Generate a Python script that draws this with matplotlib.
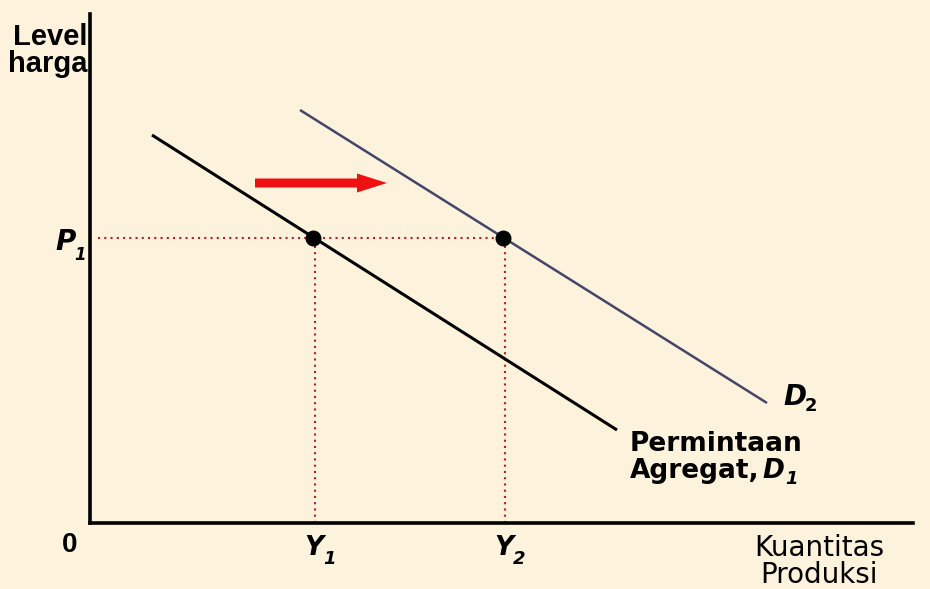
import matplotlib
matplotlib.use("Agg")
import matplotlib.pyplot as plt
from matplotlib.patches import FancyArrow

# ---- data (axis units: x quantity, y price level) ----
d1_x = [62, 527]
d1_y = [388, 93]
d2_x = [210, 677]
d2_y = [413, 120]
eq_x = [223, 413]          # Y1, Y2
eq_y = [285, 285]          # P1
shift_x = [165, 297]
shift_y = 340
x_max, y_max = 823, 509

BG = "#FDF2DC"
W, H = 930, 589
fig = plt.figure(figsize=(W / 100, H / 100), dpi=100, facecolor=BG)
ax = fig.add_axes([90 / W, (H - 523) / H, (x_max) / W, (y_max) / H])
ax.set_facecolor(BG)
ax.set_xlim(0, x_max)
ax.set_ylim(0, y_max)
for s in ["top", "right"]:
    ax.spines[s].set_visible(False)
for s in ["left", "bottom"]:
    ax.spines[s].set_linewidth(2.6)
    ax.spines[s].set_color("black")
ax.set_xticks([])
ax.set_yticks([])

# dotted guide lines
dot_c = "#B82020"
ax.plot([8, eq_x[1] + 2], [eq_y[0], eq_y[1]], color=dot_c, lw=1.5, ls=(0, (1, 2)))
for xv, yv in zip(eq_x, eq_y):
    ax.plot([xv + 2, xv + 2], [0, yv], color=dot_c, lw=1.5, ls=(0, (1, 2)))

# demand curves
ax.plot(d1_x, d1_y, color="black", lw=2.2, solid_capstyle="butt")
ax.plot(d2_x, d2_y, color="#45456A", lw=1.8, solid_capstyle="butt")

# equilibrium points
ax.scatter(eq_x, eq_y, s=110, color="black", zorder=5)

# shift arrow
ax.add_patch(FancyArrow(shift_x[0], shift_y, shift_x[1] - shift_x[0], 0,
                        width=9, head_width=19, head_length=30,
                        length_includes_head=True, color="#EE1111", lw=0))

bold = dict(fontweight="bold", color="black", clip_on=False)
# axis labels
ax.text(-3, y_max - 9, "Level\nharga", ha="right", va="top", fontsize=21,
        family="Liberation Sans", linespacing=0.95, **bold)
ax.text(729, -11, "Kuantitas\nProduksi", ha="center", va="top", fontsize=20,
        family="DejaVu Sans", linespacing=0.95, color="black", clip_on=False)
ax.text(-20, -22, "0", ha="center", va="center", fontsize=20,
        family="Liberation Sans", **bold)

# P1
ax.text(-35, 281, "P", ha="left", va="center", fontsize=20,
        family="DejaVu Sans", fontstyle="italic", **bold)
ax.text(-16, 268, "1", ha="left", va="center", fontsize=12,
        family="DejaVu Sans", fontstyle="italic", **bold)
# Y1, Y2
for xv, sub in zip(eq_x, ["1", "2"]):
    ax.text(xv - 9, -25, "Y", ha="left", va="center", fontsize=19,
            family="DejaVu Sans", fontstyle="italic", **bold)
    ax.text(xv + 10, -36, sub, ha="left", va="center", fontsize=13,
            family="DejaVu Sans", fontstyle="italic", **bold)

# D2
ax.text(d2_x[1] + 16, d2_y[1] + 6, "D", ha="left", va="center", fontsize=20,
        family="DejaVu Sans", fontstyle="italic", **bold)
ax.text(d2_x[1] + 38, d2_y[1] - 3, "2", ha="left", va="center", fontsize=13,
        family="DejaVu Sans", **bold)

# Permintaan Agregat, D1
ax.text(d1_x[1] + 13, d1_y[1] - 1, "Permintaan", ha="left", va="top",
        fontsize=19, family="DejaVu Sans", **bold)
ax.text(d1_x[1] + 13, d1_y[1] - 28, "Agregat,", ha="left", va="top",
        fontsize=19, family="DejaVu Sans", **bold)
ax.text(d1_x[1] + 145, d1_y[1] - 28, "D", ha="left", va="top",
        fontsize=19, family="DejaVu Sans", fontstyle="italic", **bold)
ax.text(d1_x[1] + 168, d1_y[1] - 40, "1", ha="left", va="top",
        fontsize=13, family="DejaVu Sans", fontstyle="italic", **bold)

fig.savefig("out.png", dpi=100, facecolor=BG)
